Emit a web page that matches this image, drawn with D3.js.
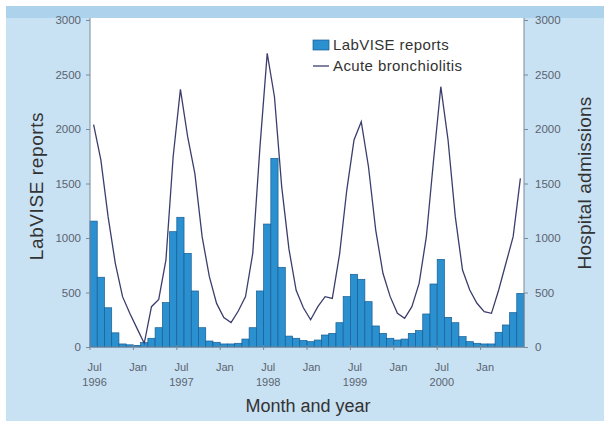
<!DOCTYPE html>
<html>
<head>
<meta charset="utf-8">
<script src="https://cdn.jsdelivr.net/npm/d3@7/dist/d3.min.js"></script>
<style>
  body { margin: 0; background: #fff; }
  svg { display: block; font-family: "Liberation Sans", Arial, sans-serif; }
</style>
</head>
<body>
<svg id="chart" width="604" height="421"></svg>
<script>
// monthly values, Jul 1996 .. Jun 2001
var labviseReports = [
  1155, 640, 360, 130, 28, 20, 15, 40, 80, 177, 407, 1058,
  1190, 859, 514, 177, 55, 43, 28, 28, 34, 73, 177, 514,
  1128, 1731, 731, 100, 80, 60, 49, 64, 110, 125, 223, 462,
  667, 621, 416, 193, 125, 80, 64, 73, 125, 150, 303, 578,
  804, 272, 223, 95, 49, 34, 28, 28, 135, 202, 315, 492
];
var bronchiolitis = [
  2040, 1716, 1196, 768, 462, 309, 171, 34, 370, 437, 800, 1750,
  2364, 1930, 1590, 1012, 645, 400, 270, 225, 330, 462, 859, 1838,
  2694, 2296, 1471, 900, 520, 360, 250, 370, 462, 446, 850, 1440,
  1900, 2067, 1654, 1073, 676, 462, 309, 263, 370, 584, 1012, 1716,
  2388, 1899, 1196, 706, 523, 401, 324, 309, 523, 768, 1012, 1547
];
var tickMonths = [0, 6, 12, 18, 24, 30, 36, 42, 48, 54];
var tickLabels = [["Jul", "1996"], ["Jan"], ["Jul", "1997"], ["Jan"], ["Jul", "1998"],
                  ["Jan"], ["Jul", "1999"], ["Jan"], ["Jul", "2000"], ["Jan"]];
var yTicks = [0, 500, 1000, 1500, 2000, 2500, 3000];

var svg = d3.select("#chart");
var plotLeft = 90, plotRight = 524, plotTop = 20, plotBottom = 347;

// background frame
svg.append("rect").attr("x", 6).attr("y", 6).attr("width", 598).attr("height", 415).attr("fill", "#c8e1f3");
svg.append("rect").attr("x", 6).attr("y", 6).attr("width", 598).attr("height", 12).attr("fill", "#add3ec");
svg.append("rect").attr("x", plotLeft).attr("y", 18).attr("width", plotRight - plotLeft).attr("height", plotBottom - 18).attr("fill", "#fff");

var x = d3.scaleBand()
  .domain(d3.range(labviseReports.length))
  .range([plotLeft, plotRight])
  .padding(0);

var y = d3.scaleLinear().domain([0, 3000]).range([plotBottom, plotTop]);
var y2 = d3.scaleLinear().domain([0, 3000]).range([plotBottom, plotTop]);

// bars
svg.append("g")
  .selectAll("rect")
  .data(labviseReports)
  .enter()
  .append("rect")
  .attr("x", function(d, i) { return x(i); })
  .attr("y", function(d) { return y(d); })
  .attr("width", x.bandwidth())
  .attr("height", function(d) { return y(0) - y(d); })
  .attr("fill", "#2b90d0")
  .attr("stroke", "#175d93")
  .attr("stroke-width", 0.7);

// line
var line = d3.line()
  .x(function(d, i) { return x(i) + x.bandwidth() / 2; })
  .y(function(d) { return y2(d); });

svg.append("path")
  .datum(bronchiolitis)
  .attr("d", line)
  .attr("fill", "none")
  .attr("stroke", "#3b3e6c")
  .attr("stroke-width", 1.3);

// axes
var axisColor = "#7b8a99";
var leftAxis = svg.append("g")
  .attr("transform", "translate(" + plotLeft + ",0)")
  .call(d3.axisLeft(y).tickValues(yTicks).tickSize(4).tickPadding(5).tickFormat(d3.format("d")));
var rightAxis = svg.append("g")
  .attr("transform", "translate(" + plotRight + ",0)")
  .call(d3.axisRight(y2).tickValues(yTicks).tickSize(4).tickPadding(7).tickFormat(d3.format("d")));

[leftAxis, rightAxis].forEach(function(g) {
  g.select(".domain").attr("stroke", axisColor).attr("d", "M0,18V" + plotBottom);
  g.selectAll(".tick line").attr("stroke", axisColor);
  g.selectAll(".tick text").attr("fill", "#5a6470").attr("font-size", 11.5).attr("font-family", "Liberation Sans, Arial");
});

svg.append("line")
  .attr("x1", plotLeft).attr("x2", plotRight)
  .attr("y1", plotBottom).attr("y2", plotBottom)
  .attr("stroke", axisColor);

var xt = svg.append("g");
xt.selectAll("line")
  .data(tickMonths)
  .enter()
  .append("line")
  .attr("x1", function(d) { return x(d); })
  .attr("x2", function(d) { return x(d); })
  .attr("y1", plotBottom - 2)
  .attr("y2", plotBottom + 3)
  .attr("stroke", axisColor);

xt.selectAll("text")
  .data(tickMonths)
  .enter()
  .append("text")
  .attr("text-anchor", "middle")
  .attr("font-size", 11)
  .attr("fill", "#5a6470")
  .each(function(d, i) {
    var t = d3.select(this);
    tickLabels[i].forEach(function(s, j) {
      t.append("tspan")
        .attr("x", x(d) + x.bandwidth() / 2 + 1)
        .attr("y", 371 + j * 15)
        .text(s);
    });
  });

// titles
svg.append("text")
  .attr("transform", "translate(43,186) rotate(-90)")
  .attr("text-anchor", "middle")
  .attr("font-size", 19)
  .attr("letter-spacing", 0.6)
  .attr("fill", "#333")
  .text("LabVISE reports");

svg.append("text")
  .attr("transform", "translate(591,183) rotate(-90)")
  .attr("text-anchor", "middle")
  .attr("font-size", 19)
  .attr("letter-spacing", 0.2)
  .attr("fill", "#333")
  .text("Hospital admissions");

svg.append("text")
  .attr("x", 308)
  .attr("y", 412)
  .attr("text-anchor", "middle")
  .attr("font-size", 18)
  .attr("fill", "#333")
  .text("Month and year");

// legend
var legend = svg.append("g").attr("transform", "translate(313,40)");
legend.append("rect")
  .attr("x", 0).attr("y", 0).attr("width", 16).attr("height", 10)
  .attr("fill", "#2b90d0").attr("stroke", "#175d93").attr("stroke-width", 0.7);
legend.append("text")
  .attr("x", 20).attr("y", 10)
  .attr("font-size", 15).attr("letter-spacing", 0.4).attr("fill", "#333")
  .text("LabVISE reports");
legend.append("line")
  .attr("x1", 0).attr("x2", 16).attr("y1", 26).attr("y2", 26)
  .attr("stroke", "#3b3e6c").attr("stroke-width", 1.3);
legend.append("text")
  .attr("x", 20).attr("y", 31)
  .attr("font-size", 15).attr("letter-spacing", 0.4).attr("fill", "#333")
  .text("Acute bronchiolitis");
</script>
</body>
</html>
